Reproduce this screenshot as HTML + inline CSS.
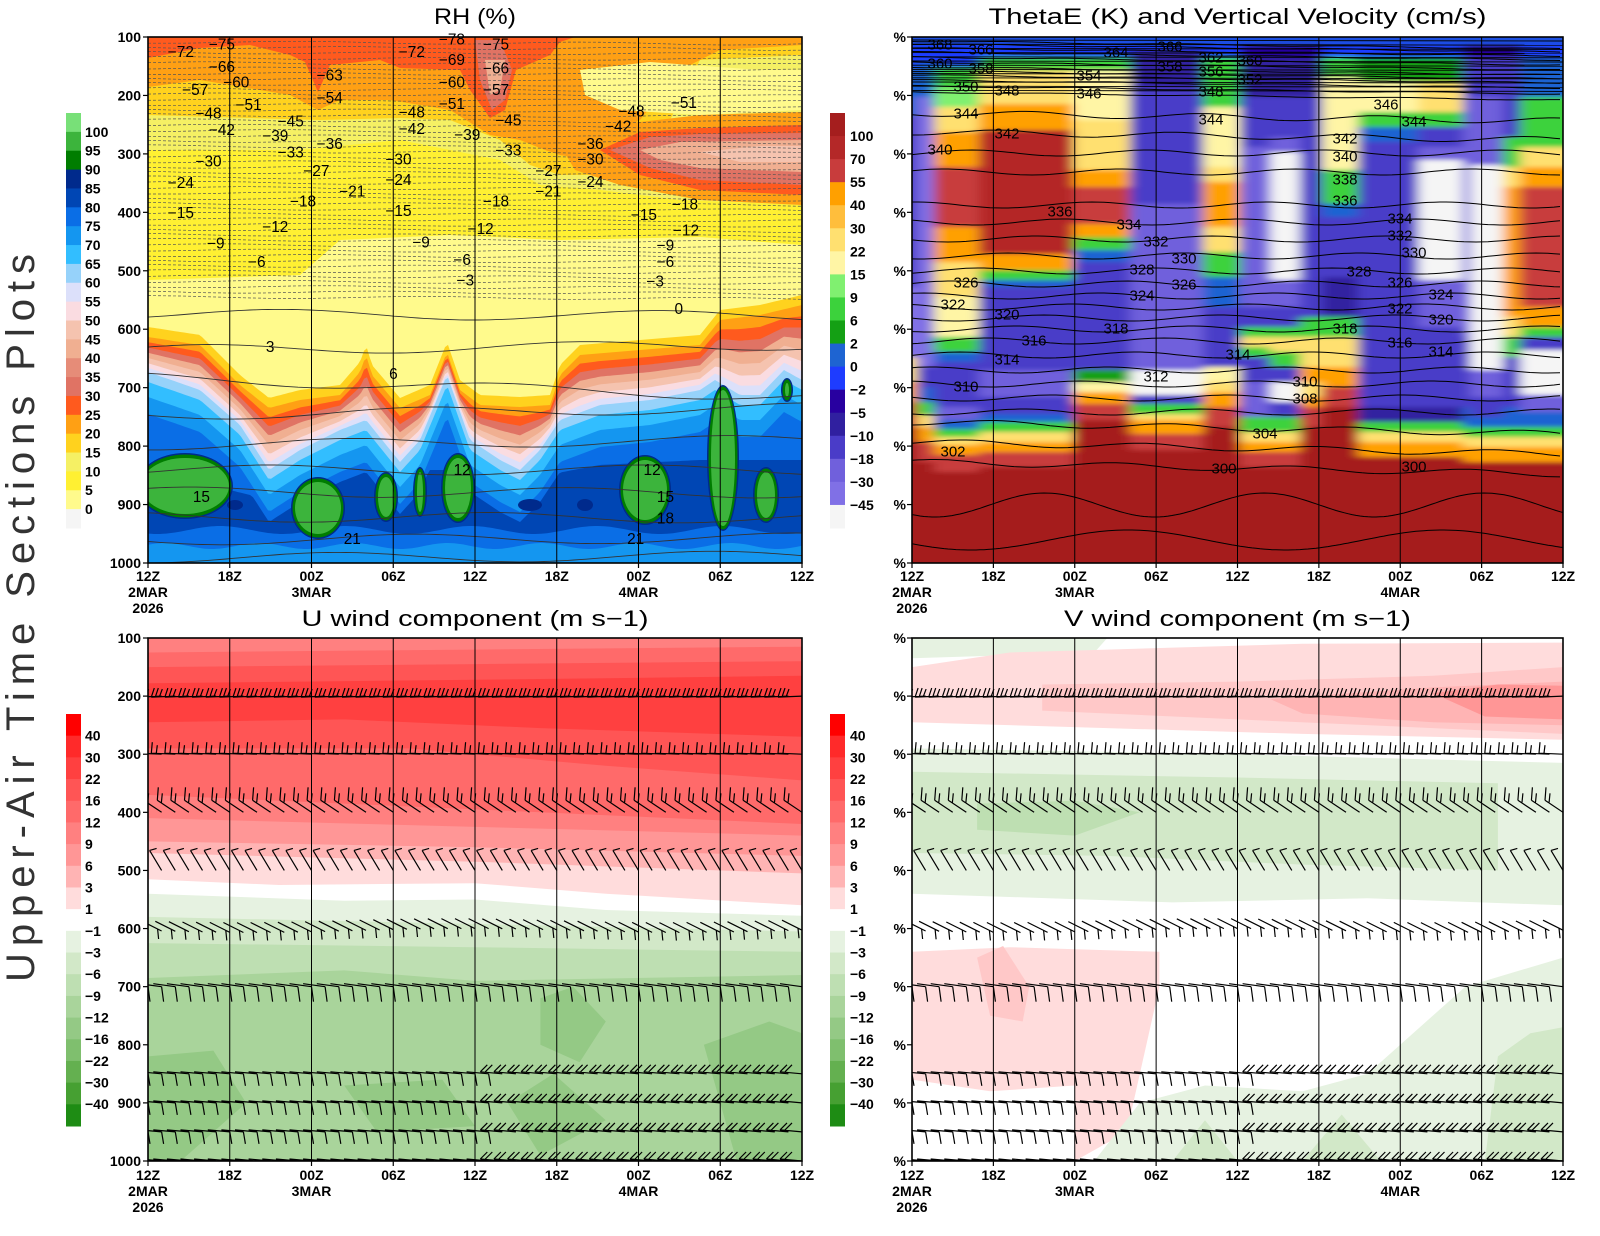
<!DOCTYPE html>
<html><head><meta charset="utf-8"><style>
html,body{margin:0;padding:0;background:#fff;}
svg{display:block;}
.t{font-family:"Liberation Sans",sans-serif;font-size:14px;font-weight:bold;fill:#000;}
.c{font-family:"Liberation Sans",sans-serif;font-size:15px;fill:#000;text-anchor:middle;dominant-baseline:central;}
.cb{font-family:"Liberation Sans",sans-serif;font-size:14px;font-weight:bold;fill:#000;dominant-baseline:central;}
.ti{font-family:"Liberation Sans",sans-serif;font-size:22px;fill:#000;text-anchor:middle;}
</style></head><body>
<svg id="s" xmlns="http://www.w3.org/2000/svg" width="1600" height="1236" viewBox="0 0 1600 1236">
<defs>
<clipPath id="crh"><rect x="148" y="37" width="654" height="526"/></clipPath>
<clipPath id="cth"><rect x="912" y="37" width="651" height="526"/></clipPath>
<clipPath id="cu"><rect x="148" y="638" width="654" height="523"/></clipPath>
<clipPath id="cv"><rect x="912" y="638" width="651" height="523"/></clipPath>
<filter id="bl" x="-5%" y="-5%" width="110%" height="110%"><feGaussianBlur stdDeviation="6 2"/></filter>
</defs>
<g id="grh" clip-path="url(#crh)"></g>
<g id="gth" clip-path="url(#cth)"><g id="gthf" filter="url(#bl)"></g></g>
<g id="gu" clip-path="url(#cu)"></g>
<g id="gv" clip-path="url(#cv)"></g>
<g id="gcb"></g>

<!-- RH contour labels -->
<g class="c" transform="translate(148,37) scale(1.0267,1.0253) translate(-146,-37)">
<text x="178" y="52">−72</text><text x="218" y="45">−75</text><text x="218" y="67">−66</text><text x="232" y="82">−60</text>
<text x="192" y="89">−57</text><text x="244" y="104">−51</text><text x="205" y="112">−48</text><text x="218" y="128">−42</text>
<text x="285" y="120">−45</text><text x="270" y="134">−39</text><text x="285" y="150">−33</text><text x="205" y="159">−30</text>
<text x="323" y="142">−36</text><text x="310" y="168">−27</text><text x="178" y="180">−24</text><text x="345" y="188">−21</text>
<text x="297" y="198">−18</text><text x="178" y="209">−15</text><text x="270" y="223">−12</text><text x="212" y="239">−9</text>
<text x="252" y="257">−6</text><text x="323" y="75">−63</text><text x="323" y="97">−54</text><text x="403" y="52">−72</text>
<text x="442" y="40">−78</text><text x="485" y="45">−75</text><text x="442" y="60">−69</text><text x="485" y="68">−66</text>
<text x="442" y="82">−60</text><text x="485" y="89">−57</text><text x="442" y="103">−51</text><text x="403" y="111">−48</text>
<text x="403" y="127">−42</text><text x="457" y="133">−39</text><text x="497" y="119">−45</text><text x="390" y="157">−30</text>
<text x="390" y="177">−24</text><text x="390" y="207">−15</text><text x="497" y="148">−33</text><text x="485" y="198">−18</text>
<text x="470" y="225">−12</text><text x="412" y="238">−9</text><text x="452" y="255">−6</text><text x="455" y="275">−3</text>
<text x="536" y="168">−27</text><text x="536" y="188">−21</text><text x="577" y="142">−36</text><text x="577" y="157">−30</text>
<text x="577" y="179">−24</text><text x="617" y="110">−48</text><text x="604" y="125">−42</text><text x="668" y="102">−51</text>
<text x="629" y="211">−15</text><text x="669" y="201">−18</text><text x="670" y="226">−12</text><text x="650" y="241">−9</text>
<text x="650" y="257">−6</text><text x="640" y="276">−3</text><text x="663" y="303">0</text><text x="265" y="340">3</text>
<text x="385" y="366">6</text><text x="452" y="460">12</text><text x="198" y="486">15</text><text x="637" y="460">12</text>
<text x="650" y="486">15</text><text x="650" y="507">18</text><text x="345" y="527">21</text><text x="621" y="527">21</text>
</g>

<!-- ThetaE labels -->
<g class="c">
<text x="940" y="45">368</text><text x="981" y="50">366</text><text x="940" y="64">360</text><text x="981" y="69">358</text>
<text x="966" y="87">350</text><text x="1007" y="91">348</text><text x="966" y="114">344</text><text x="1007" y="134">342</text>
<text x="940" y="150">340</text><text x="1116" y="53">364</text><text x="1170" y="47">366</text><text x="1089" y="76">354</text>
<text x="1089" y="94">346</text><text x="1170" y="67">358</text><text x="1211" y="58">362</text><text x="1250" y="61">360</text>
<text x="1211" y="72">356</text><text x="1250" y="80">352</text><text x="1211" y="92">348</text><text x="1211" y="120">344</text>
<text x="1386" y="105">346</text><text x="1414" y="122">344</text><text x="1345" y="139">342</text><text x="1345" y="157">340</text>
<text x="1345" y="180">338</text><text x="1345" y="201">336</text><text x="1060" y="212">336</text><text x="1129" y="225">334</text>
<text x="1156" y="242">332</text><text x="1184" y="259">330</text><text x="1142" y="270">328</text><text x="1184" y="285">326</text>
<text x="1142" y="296">324</text><text x="1116" y="329">318</text><text x="1400" y="219">334</text><text x="1400" y="236">332</text>
<text x="1414" y="253">330</text><text x="1359" y="272">328</text><text x="1400" y="283">326</text><text x="1441" y="295">324</text>
<text x="1400" y="309">322</text><text x="1441" y="320">320</text><text x="1345" y="329">318</text><text x="1400" y="343">316</text>
<text x="1441" y="352">314</text><text x="966" y="283">326</text><text x="953" y="305">322</text><text x="1007" y="315">320</text>
<text x="1034" y="341">316</text><text x="1007" y="360">314</text><text x="966" y="387">310</text><text x="1156" y="377">312</text>
<text x="1238" y="355">314</text><text x="1305" y="382">310</text><text x="1305" y="399">308</text><text x="1265" y="434">304</text>
<text x="953" y="452">302</text><text x="1224" y="469">300</text><text x="1414" y="467">300</text>
</g>

<!-- Y axis labels -->
<g class="t" text-anchor="end" dominant-baseline="central">
<text x="141" y="37">100</text><text x="141" y="95.4">200</text><text x="141" y="153.9">300</text><text x="141" y="212.3">400</text><text x="141" y="270.8">500</text><text x="141" y="329.2">600</text><text x="141" y="387.6">700</text><text x="141" y="446.1">800</text><text x="141" y="504.5">900</text><text x="141" y="563">1000</text>
<text x="141" y="638">100</text><text x="141" y="696.1">200</text><text x="141" y="754.2">300</text><text x="141" y="812.3">400</text><text x="141" y="870.4">500</text><text x="141" y="928.6">600</text><text x="141" y="986.7">700</text><text x="141" y="1044.8">800</text><text x="141" y="1102.9">900</text><text x="141" y="1161">1000</text>
<text x="906" y="37">%</text><text x="906" y="95.4">%</text><text x="906" y="153.9">%</text><text x="906" y="212.3">%</text><text x="906" y="270.8">%</text><text x="906" y="329.2">%</text><text x="906" y="387.6">%</text><text x="906" y="446.1">%</text><text x="906" y="504.5">%</text><text x="906" y="563">%</text>
<text x="906" y="638">%</text><text x="906" y="696.1">%</text><text x="906" y="754.2">%</text><text x="906" y="812.3">%</text><text x="906" y="870.4">%</text><text x="906" y="928.6">%</text><text x="906" y="986.7">%</text><text x="906" y="1044.8">%</text><text x="906" y="1102.9">%</text><text x="906" y="1161">%</text>
</g>

<!-- time labels -->
<g class="t" text-anchor="middle">
<text x="148" y="581">12Z</text><text x="229.8" y="581">18Z</text><text x="311.5" y="581">00Z</text><text x="393.3" y="581">06Z</text><text x="475" y="581">12Z</text><text x="556.8" y="581">18Z</text><text x="638.5" y="581">00Z</text><text x="720.3" y="581">06Z</text><text x="802" y="581">12Z</text>
<text x="148" y="597">2MAR</text><text x="311.5" y="597">3MAR</text><text x="638.5" y="597">4MAR</text><text x="148" y="613">2026</text>
<text x="912" y="581">12Z</text><text x="993.4" y="581">18Z</text><text x="1074.8" y="581">00Z</text><text x="1156.1" y="581">06Z</text><text x="1237.5" y="581">12Z</text><text x="1318.9" y="581">18Z</text><text x="1400.3" y="581">00Z</text><text x="1481.6" y="581">06Z</text><text x="1563" y="581">12Z</text>
<text x="912" y="597">2MAR</text><text x="1074.8" y="597">3MAR</text><text x="1400.3" y="597">4MAR</text><text x="912" y="613">2026</text>
<text x="148" y="1180">12Z</text><text x="229.8" y="1180">18Z</text><text x="311.5" y="1180">00Z</text><text x="393.3" y="1180">06Z</text><text x="475" y="1180">12Z</text><text x="556.8" y="1180">18Z</text><text x="638.5" y="1180">00Z</text><text x="720.3" y="1180">06Z</text><text x="802" y="1180">12Z</text>
<text x="148" y="1196">2MAR</text><text x="311.5" y="1196">3MAR</text><text x="638.5" y="1196">4MAR</text><text x="148" y="1212">2026</text>
<text x="912" y="1180">12Z</text><text x="993.4" y="1180">18Z</text><text x="1074.8" y="1180">00Z</text><text x="1156.1" y="1180">06Z</text><text x="1237.5" y="1180">12Z</text><text x="1318.9" y="1180">18Z</text><text x="1400.3" y="1180">00Z</text><text x="1481.6" y="1180">06Z</text><text x="1563" y="1180">12Z</text>
<text x="912" y="1196">2MAR</text><text x="1074.8" y="1196">3MAR</text><text x="1400.3" y="1196">4MAR</text><text x="912" y="1212">2026</text>
</g>

<!-- colorbar labels -->
<g class="cb">
<text x="85" y="131.9">100</text><text x="85" y="150.7">95</text><text x="85" y="169.6">90</text><text x="85" y="188.4">85</text><text x="85" y="207.3">80</text><text x="85" y="226.2">75</text><text x="85" y="245">70</text><text x="85" y="263.9">65</text><text x="85" y="282.7">60</text><text x="85" y="301.6">55</text><text x="85" y="320.5">50</text><text x="85" y="339.3">45</text><text x="85" y="358.2">40</text><text x="85" y="377">35</text><text x="85" y="395.9">30</text><text x="85" y="414.8">25</text><text x="85" y="433.6">20</text><text x="85" y="452.5">15</text><text x="85" y="471.3">10</text><text x="85" y="490.2">5</text><text x="85" y="509.1">0</text>
<text x="850" y="136.1">100</text><text x="850" y="159.1">70</text><text x="850" y="182.2">55</text><text x="850" y="205.2">40</text><text x="850" y="228.3">30</text><text x="850" y="251.4">22</text><text x="850" y="274.4">15</text><text x="850" y="297.5">9</text><text x="850" y="320.5">6</text><text x="850" y="343.6">2</text><text x="850" y="366.7">0</text><text x="850" y="389.7">−2</text><text x="850" y="412.8">−5</text><text x="850" y="435.8">−10</text><text x="850" y="458.9">−18</text><text x="850" y="482">−30</text><text x="850" y="505">−45</text>
<text x="85" y="735.7">40</text><text x="85" y="757.4">30</text><text x="85" y="779">22</text><text x="85" y="800.7">16</text><text x="85" y="822.4">12</text><text x="85" y="844.1">9</text><text x="85" y="865.8">6</text><text x="85" y="887.4">3</text><text x="85" y="909.1">1</text><text x="85" y="930.8">−1</text><text x="85" y="952.5">−3</text><text x="85" y="974.2">−6</text><text x="85" y="995.8">−9</text><text x="85" y="1017.5">−12</text><text x="85" y="1039.2">−16</text><text x="85" y="1060.9">−22</text><text x="85" y="1082.6">−30</text><text x="85" y="1104.2">−40</text>
<text x="850" y="735.7">40</text><text x="850" y="757.4">30</text><text x="850" y="779">22</text><text x="850" y="800.7">16</text><text x="850" y="822.4">12</text><text x="850" y="844.1">9</text><text x="850" y="865.8">6</text><text x="850" y="887.4">3</text><text x="850" y="909.1">1</text><text x="850" y="930.8">−1</text><text x="850" y="952.5">−3</text><text x="850" y="974.2">−6</text><text x="850" y="995.8">−9</text><text x="850" y="1017.5">−12</text><text x="850" y="1039.2">−16</text><text x="850" y="1060.9">−22</text><text x="850" y="1082.6">−30</text><text x="850" y="1104.2">−40</text>
</g>

<!-- titles -->
<text class="ti" x="475" y="24" textLength="82" lengthAdjust="spacingAndGlyphs">RH (%)</text>
<text class="ti" x="1237.5" y="24" textLength="498" lengthAdjust="spacingAndGlyphs">ThetaE (K) and Vertical Velocity (cm/s)</text>
<text class="ti" x="475" y="626" textLength="347" lengthAdjust="spacingAndGlyphs">U wind component (m s−1)</text>
<text class="ti" x="1237.5" y="626" textLength="347" lengthAdjust="spacingAndGlyphs">V wind component (m s−1)</text>
<text x="34" y="618" transform="rotate(-90 34 618)" text-anchor="middle" font-family="Liberation Sans, sans-serif" font-size="40" fill="#333" textLength="728" lengthAdjust="spacing">Upper-Air Time Sections Plots</text>
</svg>
<script>
var NS="http://www.w3.org/2000/svg";
function el(t,a,p){var e=document.createElementNS(NS,t);for(var k in a)e.setAttribute(k,a[k]);(p||document.getElementById('s')).appendChild(e);return e;}
function ptsStr(p){return p.map(function(q){return q[0].toFixed(1)+','+q[1].toFixed(1);}).join(' ');}
function poly(p,f,g){el('polygon',{points:ptsStr(p),fill:f},g);}
function interp(c,x){if(x<=c[0][0])return c[0][1];for(var i=1;i<c.length;i++){if(x<=c[i][0]){var a=c[i-1],b=c[i];return a[1]+(b[1]-a[1])*(x-a[0])/(b[0]-a[0]);}}return c[c.length-1][1];}
function fillBelow(c,f,g,x0,x1,y1){var p=[[x0-2,c[0][1]]].concat(c);p.push([x1+2,c[c.length-1][1]]);p.push([x1+2,y1+2]);p.push([x0-2,y1+2]);poly(p,f,g);}
function sampled(fn,x0,x1){var r=[];for(var x=x0;x<=x1+0.1;x+=3)r.push([x,fn(x)]);return r;}

/* ---------------- RH ---------------- */
var g=document.getElementById('grh');
el('rect',{x:148,y:37,width:654,height:526,fill:'#ff5a1e'},g);
var L=[
['#ffa014',[[148,58],[200,48],[250,45],[290,55],[305,62],[318,92],[330,65],[380,60],[400,68],[460,70],[470,90],[490,118],[505,110],[516,70],[550,55],[560,42],[575,37],[802,37]]],
['#ffd21e',[[148,87],[200,80],[290,95],[318,110],[340,100],[390,100],[450,110],[490,135],[520,140],[545,150],[560,155],[590,160],[600,140],[640,120],[680,70],[720,50],[802,45]]],
['#f5f064',[[148,115],[250,118],[320,120],[400,118],[450,120],[500,140],[530,165],[560,175],[600,175],[640,160],[670,120],[700,60],[802,55]]],
['#fff032',[[148,150],[300,150],[400,140],[500,160],[540,185],[600,190],[680,200],[802,205]]],
['#fffa8c',[[148,280],[300,275],[340,240],[450,235],[560,240],[700,237],[802,245]]]
];
L.forEach(function(l){fillBelow(l[1],l[0],g,148,802,563);});
poly([[580,70],[650,62],[760,70],[802,70],[802,110],[700,115],[620,110],[585,95]],'#fffa8c',g);
poly([[560,145],[600,125],[640,122],[700,115],[802,112],[802,205],[700,200],[620,185],[575,170]],'#ffa014',g);
poly([[600,150],[640,132],[700,128],[802,125],[802,195],[700,190],[640,175]],'#ff5a1e',g);
poly([[610,150],[650,137],[700,134],[802,133],[802,185],[700,180],[650,168]],'#e07364',g);
poly([[640,150],[680,142],[802,140],[802,172],[700,168],[660,160]],'#f0af91',g);
poly([[700,152],[760,146],[802,146],[802,162],[740,162]],'#f5c3af',g);
poly([[475,40],[500,40],[512,70],[505,100],[492,110],[480,80]],'#e07364',g);
poly([[485,60],[505,60],[500,90],[490,95]],'#f0af91',g);
var B=[[148,337],[200,345],[240,385],[269,408],[300,400],[340,395],[360,372],[366,355],[372,375],[400,408],[430,395],[447,352],[460,390],[480,405],[520,407],[550,405],[560,375],[580,355],[640,350],[700,345],[720,320],[760,315],[802,305]];
var Bl=[[148,372],[200,390],[240,425],[269,470],[300,450],[340,430],[366,420],[400,462],[420,440],[447,375],[470,440],[500,460],[520,470],[540,450],[560,420],[600,405],[650,400],[700,390],[715,380],[740,395],[760,395],[784,370],[802,380]];
fillBelow(sampled(function(x){return interp(B,x)-10;},148,802),'#ffd21e',g,148,802,563);
var tr=[[0,'#ffa014'],[0.15,'#ff5a1e'],[0.3,'#e07364'],[0.45,'#f0af91'],[0.6,'#f5c3af'],[0.75,'#fadce1'],[0.88,'#dce0fa'],[1,'#96d2fa']];
tr.forEach(function(t){fillBelow(sampled(function(x){var a=interp(B,x),b=interp(Bl,x);return a+(b-a)*t[0];},148,802),t[1],g,148,802,563);});
fillBelow(sampled(function(x){return interp(Bl,x)+10;},148,802),'#32beff',g,148,802,563);
fillBelow(sampled(function(x){return interp(Bl,x)+25;},148,802),'#1496f0',g,148,802,563);
fillBelow(sampled(function(x){return interp(Bl,x)+42;},148,802),'#0a6ee6',g,148,802,563);
var D=[[148,470],[250,495],[300,475],[400,470],[450,470],[520,480],[600,465],[700,460],[802,460]];
fillBelow(sampled(function(x){return Math.max(interp(D,x),interp(Bl,x)+52);},148,802),'#0046b4',g,148,802,563);
fillBelow(sampled(function(x){return 530+4*Math.sin(x/20);},148,802),'#0a6ee6',g,148,802,563);
fillBelow(sampled(function(x){return 546+3*Math.sin(x/15);},148,802),'#1496f0',g,148,802,563);
[[530,505,12,6],[585,505,8,6],[235,505,8,5]].forEach(function(e){el('ellipse',{cx:e[0],cy:e[1],rx:e[2],ry:e[3],fill:'#002a8c'},g);});
[[185,486,45,30],[318,508,24,28],[386,497,9,22],[420,492,4,22],[458,488,14,32],[645,490,23,32],[723,458,13,70],[766,495,10,25],[787,390,3,9]].forEach(function(e){
 el('ellipse',{cx:e[0],cy:e[1],rx:e[2]+3,ry:e[3]+3,fill:'#002a8c'},g);
 el('ellipse',{cx:e[0],cy:e[1],rx:e[2]+1.5,ry:e[3]+1.5,fill:'#007d00'},g);
 el('ellipse',{cx:e[0],cy:e[1],rx:Math.max(1,e[2]-1),ry:e[3]-2,fill:'#3cb43c'},g);});
for(var y=42;y<300;y+=5.2){var pp=[];for(var x=148;x<=804;x+=8){pp.push([x,y+1.2*Math.sin(x/45+y)+(x-148)/654*2]);}
 el('polyline',{points:ptsStr(pp),fill:'none',stroke:'#555','stroke-width':0.7,'stroke-dasharray':'3,2'},g);}
[[314,316],[350,345],[378,397],[415,408],[445,440],[470,470],[492,493],[517,518],[540,538],[558,556]].forEach(function(l,k){
 var pp=[];for(var x=148;x<=804;x+=6){var f=(x-148)/654;pp.push([x,l[0]+(l[1]-l[0])*f+5*Math.sin(x/60+k*1.3)]);}
 el('polyline',{points:ptsStr(pp),fill:'none',stroke:'#333','stroke-width':0.9},g);});

/* ---------------- ThetaE ---------------- */
var C={R0:'#a51e1e',R1:'#b42828',R2:'#c83c3c',O:'#ffa000',LO:'#ffbe3c',Y:'#ffe070',LY:'#fff5a5',LG:'#80f070',G:'#3cd23c',DG:'#14a014',B:'#1e64d2',BB:'#1e3cff',I:'#2800a0',I2:'#3020a0',P:'#4a3cc8',P2:'#7060dc',L:'#8070e6',W:'#f5f5f5'};
var TH=[
[895,917,[[30,'BB'],[80,'B'],[250,'P'],[320,'L'],[345,'Y'],[365,'O'],[390,'R2'],[546,'R0']]],
[917,934,[[25,'BB'],[60,'B'],[330,'L'],[350,'P'],[365,'B'],[378,'G'],[390,'Y'],[405,'O'],[425,'R2'],[546,'R0']]],
[934,979,[[30,'BB'],[50,'G'],[70,'LG'],[95,'Y'],[130,'O'],[190,'R2'],[225,'O'],[260,'Y'],[300,'LY'],[315,'G'],[325,'B'],[370,'P'],[383,'P2'],[392,'B'],[400,'G'],[408,'Y'],[418,'O'],[435,'R2'],[546,'R0']]],
[979,1073,[[20,'BB'],[33,'G'],[67,'Y'],[93,'O'],[217,'R1'],[233,'O'],[243,'G'],[250,'B'],[333,'P'],[360,'P2'],[377,'P'],[385,'B'],[395,'G'],[405,'Y'],[415,'O'],[430,'R2'],[546,'R0']]],
[1073,1130,[[20,'BB'],[33,'G'],[83,'LY'],[133,'Y'],[150,'O'],[187,'R2'],[200,'O'],[213,'G'],[225,'B'],[333,'P'],[345,'DG'],[355,'LY'],[367,'O'],[383,'R2'],[546,'R0']]],
[1130,1203,[[13,'BB'],[50,'I2'],[167,'P'],[333,'P2'],[358,'W'],[367,'P'],[377,'G'],[383,'Y'],[397,'O'],[413,'R2'],[546,'R0']]],
[1203,1240,[[20,'BB'],[70,'G'],[130,'LY'],[145,'Y'],[190,'O'],[215,'Y'],[240,'G'],[270,'B'],[330,'P'],[345,'LY'],[355,'Y'],[370,'O'],[390,'R2'],[546,'R0']]],
[1240,1270,[[20,'I'],[60,'I2'],[110,'P'],[270,'P2'],[290,'P'],[300,'G'],[310,'Y'],[320,'G'],[345,'P'],[380,'P2'],[395,'G'],[405,'Y'],[415,'O'],[430,'R2'],[546,'R0']]],
[1270,1300,[[20,'I'],[60,'I2'],[100,'P'],[115,'P2'],[243,'W'],[270,'P2'],[290,'P'],[300,'G'],[315,'Y'],[330,'G'],[345,'P'],[365,'W'],[380,'P'],[395,'G'],[405,'Y'],[415,'O'],[430,'R2'],[546,'R0']]],
[1300,1322,[[20,'I'],[60,'I2'],[280,'P'],[300,'G'],[330,'Y'],[345,'O'],[360,'Y'],[370,'O'],[390,'R2'],[546,'R0']]],
[1322,1358,[[20,'BB'],[40,'G'],[133,'LY'],[167,'G'],[180,'B'],[240,'P'],[280,'I2'],[300,'G'],[330,'Y'],[350,'O'],[370,'R2'],[546,'R0']]],
[1358,1418,[[20,'BB'],[45,'DG'],[75,'LY'],[90,'G'],[105,'B'],[370,'P'],[385,'I2'],[395,'G'],[405,'Y'],[420,'O'],[546,'R0']]],
[1418,1463,[[20,'BB'],[45,'DG'],[75,'Y'],[90,'G'],[110,'P'],[123,'P2'],[243,'W'],[290,'P2'],[370,'P'],[385,'I2'],[395,'G'],[405,'Y'],[420,'O'],[546,'R0']]],
[1463,1470,[[20,'I'],[60,'P'],[128,'P2'],[300,'P2'],[370,'P'],[390,'B'],[400,'G'],[410,'Y'],[425,'O'],[546,'R0']]],
[1470,1503,[[20,'I'],[60,'P'],[128,'P2'],[333,'W'],[360,'P2'],[380,'P'],[390,'B'],[400,'G'],[410,'Y'],[425,'O'],[546,'R0']]],
[1503,1520,[[20,'I'],[100,'P'],[130,'G'],[150,'Y'],[180,'O'],[280,'O'],[300,'Y'],[320,'G'],[370,'P'],[390,'B'],[400,'G'],[410,'Y'],[425,'O'],[546,'R0']]],
[1520,1580,[[20,'BB'],[60,'B'],[110,'G'],[130,'Y'],[150,'O'],[180,'R2'],[270,'R2'],[290,'O'],[300,'G'],[313,'P'],[358,'W'],[375,'P2'],[390,'B'],[400,'G'],[410,'Y'],[425,'O'],[546,'R0']]]
];
var gt=document.getElementById('gth'),gtf=document.getElementById('gthf');
TH.forEach(function(s){var py=20;s[2].forEach(function(st){var ny=37+st[0];el('rect',{x:s[0],y:py,width:s[1]-s[0]+0.6,height:ny-py+0.6,fill:C[st[1]]},gtf);py=ny;});});
el('rect',{x:895,y:20,width:690,height:25,fill:'#1e50e0'},gtf);
var tl=[[368,45],[366,48],[364,52],[362,56],[360,61],[358,66],[356,71],[354,75],[352,79],[350,84],[348,90],[346,96],[344,117],[342,136],[340,153],[338,172],[336,205],[334,222],[332,239],[330,256],[328,271],[326,284],[324,296],[322,307],[320,318],[318,329],[316,341],[314,355],[312,370],[310,384],[308,398],[306,412],[304,428],[302,448],[300,468]];
tl.forEach(function(t,k){var pp=[];for(var x=912;x<=1565;x+=6){var sl=t[0]>340?8:(t[0]<306?12:0);var amp=t[0]>345?0.6:3;pp.push([x,t[1]+sl*(x-912)/651-sl/2+amp*Math.sin(x/28+k)]);}
 el('polyline',{points:ptsStr(pp),fill:'none',stroke:'#000','stroke-width':1},gt);});
[[505,12,35,0],[540,10,50,1]].forEach(function(w){var pp=[];for(var x=912;x<=1565;x+=4){pp.push([x,w[0]+w[1]*Math.sin(x/w[2]+w[3])]);}el('polyline',{points:ptsStr(pp),fill:'none',stroke:'#000','stroke-width':1},gt);});
for(var y=40;y<92;y+=4.2){el('line',{x1:912,y1:y,x2:1563,y2:y+1,stroke:'#000','stroke-width':0.9},gt);}

/* ---------------- U & V ---------------- */
function UPY(p){return 638+(p-100)*523/900;}
function curveFP(c,x0,x1){return c.map(function(q){return [x0+q[0]*(x1-x0),UPY(q[1])];});}
var gu=document.getElementById('gu');
el('rect',{x:148,y:638,width:654,height:523,fill:'#ff8080'},gu);
var UL=[
['#ff6a6a',[[0,125],[0.5,120],[1,115]]],['#ff5555',[[0,150],[0.5,145],[1,140]]],['#ff4040',[[0,178],[0.5,172],[1,165]]],
['#ff5555',[[0,245],[0.3,240],[0.6,255],[1,270]]],['#ff6a6a',[[0,290],[0.4,290],[0.7,320],[1,345]]],['#ff8080',[[0,370],[0.3,385],[0.6,400],[1,420]]],
['#ff9696',[[0,410],[0.5,425],[1,440]]],['#ffb4b4',[[0,450],[0.5,460],[1,475]]],['#ffdcdc',[[0,470],[0.5,485],[1,505]]],
['#ffffff',[[0,515],[0.2,525],[0.5,522],[0.7,540],[1,560]]],['#e6f2e1',[[0,540],[0.3,552],[0.5,550],[0.7,568],[1,578]]],
['#d2e8c8',[[0,580],[0.5,592],[1,605]]],['#bedfb2',[[0,625],[0.5,632],[1,640]]],['#a9d49b',[[0,685],[0.3,672],[0.5,690],[1,680]]]];
UL.forEach(function(l){fillBelow(curveFP(l[1],148,802),l[0],gu,148,802,1161);});
[[[0.6,720],[0.65,700],[0.7,760],[0.66,830],[0.6,800]],[[0,820],[0.1,810],[0.15,900],[0.05,1000],[0,1000]],[[0.85,800],[0.95,760],[1,780],[1,1000],[0.9,1000]],[[0.3,870],[0.45,860],[0.5,940],[0.35,950]],[[0.55,900],[0.62,850],[0.7,930],[0.6,990]]].forEach(function(p){poly(curveFP(p,148,802),'#94c985',gu);});

var gv=document.getElementById('gv');
el('rect',{x:912,y:638,width:651,height:523,fill:'#ffffff'},gv);
var VP=[
['#e6f2e1',[[0,100],[0.3,100],[0.28,125],[0,135]]],
['#ffdcdc',[[0,150],[0.15,125],[0.3,120],[0.6,110],[1,108],[1,275],[0.6,265],[0.3,255],[0,245]]],
['#ffc8c8',[[0.2,180],[0.5,175],[0.8,165],[1,150],[1,265],[0.8,255],[0.5,240],[0.2,225]]],
['#ffb4b4',[[0.55,205],[0.8,185],[1,175],[1,250],[0.8,245],[0.6,230]]],
['#ff9696',[[0.8,195],[0.9,180],[1,182],[1,240],[0.88,235]]],
['#e6f2e1',[[0,290],[0.5,300],[1,315],[1,560],[0.7,548],[0.4,555],[0,540]]],
['#d2e8c8',[[0,330],[0.5,340],[0.9,350],[0.9,500],[0.6,490],[0.3,475],[0,470]]],
['#bedfb2',[[0.1,385],[0.25,380],[0.35,400],[0.25,440],[0.1,430]]],
['#ffdcdc',[[0,640],[0.15,632],[0.38,640],[0.38,700],[0.33,950],[0.25,1000],[0,1000]]],
['#ffc8c8',[[0.1,650],[0.14,630],[0.18,700],[0.17,760],[0.12,750]]],
['#ffffff',[[0,860],[0.12,880],[0.25,870],[0.25,1000],[0,1000]]],
['#e6f2e1',[[0.28,1000],[0.35,900],[0.45,870],[0.6,880],[0.7,850],[0.85,700],[1,650],[1,1000]]],
['#d2e8c8',[[0.88,1000],[0.9,820],[0.95,780],[1,770],[1,1000]]],
['#d2e8c8',[[0.4,1000],[0.45,930],[0.5,1000]]],['#d2e8c8',[[0.6,1000],[0.66,920],[0.72,1000]]]];
VP.forEach(function(v){poly(curveFP(v[1],912,1563),v[0],gv);});

function barbs(gg,x0,x1){
 var rows=[[200,'a'],[300,'b'],[400,'c'],[500,'d'],[600,'e'],[700,'f'],[850,'g'],[900,'g'],[950,'g'],[1000,'g']];
 rows.forEach(function(r){var y0=UPY(r[0]);var d='';
  for(var i=0;i<=48;i++){var x=x0+i*(x1-x0)/48,y=y0+(r[1]=='e'?2*Math.sin(i/5):0);var segs;
   switch(r[1]){
    case 'a':segs=[[0,0,-24,1],[-24,1,-21,-8],[-20,1,-17,-8],[-16,1,-13,-7]];break;
    case 'b':segs=[[0,0,-24,-1],[-24,-1,-23,-12],[-19,-1,-18,-9]];break;
    case 'c':segs=[[0,0,-18,-12],[-18,-12,-17,-25],[-14,-9,-13,-19]];break;
    case 'd':segs=[[0,0,-12,-20],[-12,-20,-5,-22]];break;
    case 'e':segs=[[-20,-8,0,2],[-4,0,-3,10]];break;
    case 'f':segs=[[-22,-3,0,0],[0,0,2,15]];break;
    case 'g':segs=i<26?[[-22,-2,0,0],[0,0,2,12]]:[[0,0,-22,-2],[-22,-2,-15,-9],[-17,-2,-10,-9]];break;}
   segs.forEach(function(s){d+='M'+(x+s[0]).toFixed(1)+' '+(y+s[1]).toFixed(1)+'L'+(x+s[2]).toFixed(1)+' '+(y+s[3]).toFixed(1);});}
  el('path',{d:d,stroke:'#000','stroke-width':1.2,fill:'none'},gg);});
}

function grid(gg,x0,x1,y0,y1){for(var k=1;k<8;k++){var x=x0+k*(x1-x0)/8;el('line',{x1:x,y1:y0,x2:x,y2:y1,stroke:'#000','stroke-width':1},gg);}}
grid(g,148,802,37,563);grid(gt,912,1563,37,563);grid(gu,148,802,638,1161);grid(gv,912,1563,638,1161);
barbs(gu,148,802);barbs(gv,912,1563);
var S=document.getElementById('s');
[[148,37,654,526],[912,37,651,526],[148,638,654,523],[912,638,651,523]].forEach(function(r){
 el('rect',{x:r[0],y:r[1],width:r[2],height:r[3],fill:'none',stroke:'#000','stroke-width':1.6},S);
 for(var k=0;k<=9;k++){var y=r[1]+k*r[3]/9;el('line',{x1:r[0]-5,y1:y,x2:r[0],y2:y,stroke:'#000','stroke-width':1.2},S);}
 for(var k=0;k<=8;k++){var x=r[0]+k*r[2]/8;el('line',{x1:x,y1:r[1]+r[3],x2:x,y2:r[1]+r[3]+5,stroke:'#000','stroke-width':1.2},S);}
});

var gc=document.getElementById('gcb');
function cbar(x,y0,y1,cols){var h=(y1-y0)/cols.length;cols.forEach(function(c,i){el('rect',{x:x,y:y0+i*h,width:15,height:h+0.5,fill:c},gc);});}
cbar(66,113,528,['#78e078','#3cb43c','#007d00','#002a8c','#0046b4','#0a6ee6','#1496f0','#32beff','#96d2fa','#dce0fa','#fadce1','#f5c3af','#f0af91','#e68c78','#e07364','#ff5a1e','#ffa014','#ffd21e','#f5f064','#fff032','#fffa8c','#f5f5f5']);
cbar(830,113,528,['#a51e1e','#b42828','#c83c3c','#ffa000','#ffbe3c','#ffe070','#fff5a5','#80f070','#3cd23c','#14a014','#1e64d2','#1e3cff','#2800a0','#3020a0','#4a3cc8','#7060dc','#8070e6','#f5f5f5']);
var uc=['#ff0000','#ff2a2a','#ff4040','#ff5555','#ff6a6a','#ff8080','#ff9696','#ffb4b4','#ffdcdc','#ffffff','#e6f2e1','#d2e8c8','#bedfb2','#a9d49b','#94c985','#7fbf6e','#64b050','#46a032','#1e8c14'];
cbar(66,714,1126,uc);cbar(830,714,1126,uc);
</script>
</body></html>
